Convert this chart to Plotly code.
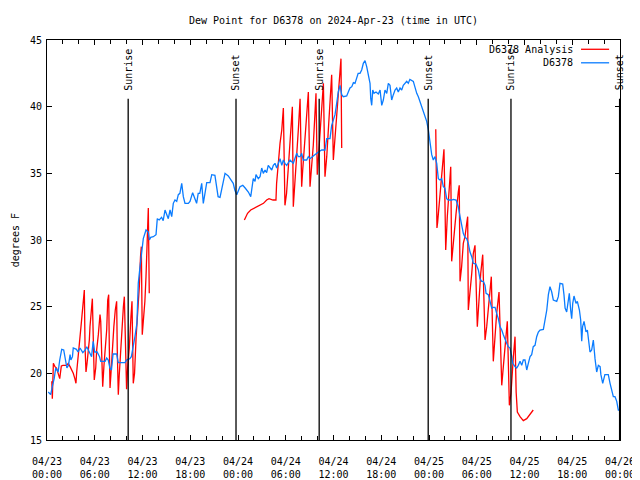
import pandas as pd
import plotly.graph_objects as go

START = pd.Timestamp("2024-04-23 00:00")

# ---- D6378 observed dew point (hours since 04/23 00:00 UTC, deg F)
blue_hours = [0.16,0.46,0.7,0.9,1.1,1.4,1.6,1.85,2.1,2.3,2.5,2.7,2.9,3.0,3.2,3.3,3.7,3.9,4.15,4.5,4.8,5.0,5.3,5.6,5.8,6.0,6.3,6.6,6.75,7.3,7.5,7.7,7.9,8.1,8.3,8.75,8.95,9.8,10.0,10.4,10.6,10.85,11.05,11.3,11.47,11.69,11.9,12.1,12.44,12.73,12.86,13.03,13.36,13.7,13.86,14.1,14.4,14.6,14.83,15.04,15.24,15.46,15.67,15.87,16.08,16.3,16.5,16.7,16.93,17.13,17.34,17.76,17.97,18.3,18.6,18.8,19.0,19.2,19.44,19.64,19.85,20.07,20.48,20.7,21.1,21.3,21.5,21.74,21.95,22.15,22.37,22.78,23.2,23.4,23.6,23.84,24.25,24.6,24.9,25.3,25.6,25.72,25.92,26.14,26.26,26.55,26.77,26.98,27.18,27.4,27.6,27.8,28.02,28.24,28.44,28.65,28.86,29.07,29.28,29.5,29.7,29.9,30.12,30.53,30.95,31.38,31.58,31.8,32.0,32.2,32.63,32.84,33.05,33.46,33.8,34.1,34.52,34.93,35.15,35.56,35.77,35.98,36.19,36.4,36.6,36.82,37.03,37.23,37.66,37.86,38.07,38.3,38.5,38.7,38.9,39.1,39.33,39.54,39.75,39.96,40.17,40.37,40.59,40.68,40.8,40.93,41.09,41.34,41.63,41.85,42.06,42.26,42.47,42.69,42.89,43.1,43.31,43.52,43.73,43.94,44.14,44.36,44.57,44.77,45.2,45.4,45.6,46.03,46.24,46.46,46.66,46.87,47.08,47.29,47.5,47.71,47.91,48.13,48.34,48.54,48.76,48.97,49.17,49.38,49.6,49.8,50.0,50.22,50.43,50.85,51.06,51.4,51.68,51.9,52.1,52.31,52.52,52.74,52.94,53.15,53.37,53.57,53.9,54.2,54.4,54.62,54.83,55.04,55.17,55.45,55.67,55.88,56.08,56.3,56.5,56.71,56.92,57.14,57.34,57.55,57.76,57.97,58.18,58.4,58.52,58.81,59.02,59.22,59.44,59.65,59.85,60.06,60.28,60.48,60.7,60.9,61.1,61.32,61.53,61.74,61.95,62.37,62.58,62.8,63.0,63.2,63.42,63.62,64.05,64.25,64.46,64.8,64.96,65.1,65.3,65.5,65.63,65.8,65.93,66.06,66.22,66.47,66.64,66.9,67.06,67.19,67.3,67.48,67.73,67.9,68.02,68.23,68.44,68.65,68.86,69.07,69.28,69.5,69.6,69.83,70.1,70.53,70.75,70.96,71.16,71.37,71.59,71.79,72.0]
blue_dewpt = [18.6,18.4,19.1,19.6,20.4,20.1,21.0,21.8,21.75,20.9,20.4,20.6,21.4,21.0,21.25,21.9,21.8,21.6,21.9,21.55,21.75,22.0,21.6,21.25,22.4,21.6,21.6,21.25,20.9,20.9,21.15,21.0,20.4,20.25,21.45,21.45,20.8,20.8,21.0,21.1,21.25,22.0,22.75,23.75,26.75,28.0,29.25,30.1,30.75,30.6,30.0,30.2,30.25,30.4,31.6,31.5,31.7,31.45,32.25,31.9,31.6,32.25,31.75,32.75,33.0,32.9,33.4,33.5,34.25,33.25,32.75,32.75,32.9,33.55,33.1,32.75,33.5,33.5,34.25,32.75,33.5,34.3,34.3,34.9,34.85,34.1,33.25,33.2,33.9,34.5,35.0,34.8,34.4,34.25,33.75,33.4,34.0,34.1,33.9,33.6,33.25,33.9,34.6,34.4,34.9,34.6,34.75,35.4,35.0,35.25,35.05,35.6,35.4,35.25,35.6,35.75,35.4,35.75,36.1,35.6,36.0,35.75,35.6,36.0,35.75,36.5,36.25,36.25,36.5,36.0,36.0,36.25,36.1,36.3,36.5,36.6,36.75,36.75,37.6,37.6,38.6,39.1,39.4,40.25,41.1,41.6,40.9,40.75,40.8,41.1,41.4,41.5,41.8,41.75,42.05,42.5,42.5,42.75,43.25,43.45,43.0,42.25,41.75,40.6,40.1,41.25,41.0,41.1,40.95,41.25,40.1,40.5,41.25,41.0,41.75,41.6,40.5,40.9,41.25,41.4,41.1,41.4,41.25,41.6,41.9,41.75,42.05,41.9,41.4,41.0,40.75,40.4,40.0,39.6,39.25,38.9,38.3,37.25,36.4,36.0,36.25,35.75,34.6,34.5,34.6,34.0,33.9,33.1,33.0,33.0,33.05,33.0,32.5,31.75,31.0,30.5,30.2,30.1,29.75,29.1,28.75,28.25,28.2,27.75,27.1,26.9,26.9,26.6,26.0,25.9,25.4,24.9,24.95,24.95,24.5,24.1,23.5,23.25,22.9,22.5,22.25,22.0,21.9,21.25,20.75,20.5,20.4,20.6,20.9,20.6,21.0,21.0,20.25,20.75,21.25,21.4,22.0,22.1,22.75,23.1,23.25,23.3,24.0,24.75,25.9,26.5,26.1,25.5,25.4,25.75,26.75,26.7,25.9,24.9,24.6,25.6,26.0,24.75,24.1,25.25,25.8,25.25,25.4,24.75,24.0,22.4,23.5,23.9,23.1,23.25,22.6,21.6,21.75,22.5,21.1,20.1,20.6,20.5,19.9,19.25,19.9,19.9,19.25,18.6,18.25,18.25,17.9,17.25,17.25]

# ---- D6378 Analysis (None = gap between analysis periods)
red_hours = [0.6,0.67,0.8,1.0,1.2,1.4,1.6,1.8,2.0,2.47,2.67,2.9,3.1,3.3,3.5,3.64,3.73,3.86,4.06,4.15,4.27,4.4,4.52,4.65,4.69,4.78,4.9,5.03,5.19,5.32,5.4,5.53,5.62,5.7,5.82,5.94,6.12,6.24,6.45,6.57,6.66,6.75,6.87,7.0,7.16,7.33,7.5,7.63,7.75,7.83,7.92,8.04,8.2,8.4,8.58,8.75,8.83,8.96,9.08,9.26,9.43,9.6,9.72,9.84,10.0,10.14,10.34,10.55,10.68,10.84,11.0,11.2,11.4,11.6,11.75,11.85,11.97,12.1,12.3,12.44,12.6,12.73,12.85,
             None,
             24.8,25.2,25.6,26.1,26.7,27.2,27.6,27.9,28.4,28.77,28.85,29.07,29.28,29.5,29.7,29.9,30.1,30.33,30.53,30.75,30.83,30.95,31.17,31.38,31.58,31.8,32.0,32.13,32.3,32.47,32.63,32.84,33.05,33.26,33.46,33.67,33.8,33.96,34.1,34.3,34.52,34.73,34.93,35.15,35.35,35.56,35.77,35.98,36.3,36.6,36.82,36.94,37.03,
             None,
             48.85,48.9,49.0,49.08,49.3,49.5,49.8,49.88,50.0,50.1,50.3,50.55,50.73,50.85,51.06,51.4,51.68,51.8,51.9,52.1,52.31,52.52,52.74,52.86,52.94,53.15,53.37,53.57,53.78,54.07,54.28,54.5,54.75,55.04,55.25,55.45,55.67,55.83,56.08,56.3,56.5,56.8,57.14,57.34,57.55,57.76,57.84,58.1,58.3,58.6,58.81,58.95,59.1,59.44,59.85,60.28,60.7,61.1]
red_dewpt = [19.4,18.1,20.75,20.5,20.4,20.0,19.6,20.55,20.6,20.6,20.75,20.5,20.25,20.0,19.6,19.25,20.1,21.1,22.0,22.75,23.5,24.25,25.1,25.9,26.25,22.0,20.1,20.75,21.6,22.5,23.5,24.4,25.25,25.6,22.5,19.5,20.4,21.75,22.9,23.75,24.4,23.9,21.1,19.0,20.6,21.9,23.25,25.5,25.9,22.0,18.9,20.0,21.75,23.5,24.75,25.4,21.75,18.4,19.9,22.0,24.0,25.0,25.75,21.5,18.8,20.5,21.9,24.25,25.4,19.25,20.0,22.75,24.5,26.5,28.75,29.5,22.9,23.75,25.4,27.25,29.5,32.4,26.0,
             None,
             31.5,32.0,32.25,32.4,32.6,32.75,33.0,33.1,33.0,33.0,34.25,35.9,37.25,38.25,39.9,32.6,33.5,35.5,37.25,39.4,40.0,32.5,34.25,36.25,38.25,40.6,34.0,35.25,36.75,38.5,39.5,41.1,34.0,35.5,37.1,39.5,41.0,34.9,36.25,38.25,40.25,41.75,34.75,36.25,38.25,40.5,42.4,36.0,38.75,41.25,42.75,43.6,36.9,
             None,
             38.3,34.5,30.9,31.3,33.0,34.25,36.4,36.8,33.0,29.25,31.75,33.75,35.5,28.4,30.0,32.0,33.6,34.1,26.9,28.0,29.75,30.25,31.25,31.75,24.75,25.9,27.5,29.0,29.6,23.5,25.5,27.5,28.9,22.5,23.5,25.0,26.5,27.25,20.9,23.0,24.5,26.1,19.1,20.5,22.0,23.5,23.9,17.6,18.5,21.25,22.75,18.6,17.1,16.75,16.45,16.6,16.9,17.25]

# ---- Sunrise / sunset markers
event_hours = [10.2, 23.75, 34.2, 47.9, 58.3, 71.95]
event_names = ["Sunrise", "Sunset", "Sunrise", "Sunset", "Sunrise", "Sunset"]

# ---- axis ticks
tick_hours = [0, 6, 12, 18, 24, 30, 36, 42, 48, 54, 60, 66, 72]
y_range = [15, 45]
TITLE = "Dew Point for D6378 on 2024-Apr-23 (time in UTC)"

def to_time(hours):
    return [None if h is None else START + pd.Timedelta(hours=h) for h in hours]

FONT = "DejaVu Sans Mono"
RED = "#ff0000"
BLUE = "#0a7cff"

# page body adds an 8px offset; figure sized so the plot box lands at x 47..620, y 40..440
W, H = 632, 472

fig = go.Figure()
fig.add_trace(go.Scatter(x=to_time(red_hours), y=red_dewpt, mode="lines",
                         line=dict(color=RED, width=1.3), connectgaps=False,
                         name="D6378 Analysis", showlegend=False))
fig.add_trace(go.Scatter(x=to_time(blue_hours), y=blue_dewpt, mode="lines",
                         line=dict(color=BLUE, width=1.3),
                         name="D6378", showlegend=False))

line_top = 40.6
for t, name in zip(to_time(event_hours), event_names):
    fig.add_shape(type="line", xref="x", yref="y", x0=t, x1=t, y0=y_range[0], y1=line_top,
                  line=dict(color="black", width=1.3))
    fig.add_annotation(x=t, y=line_top + 0.45, xref="x", yref="y", text=name, textangle=-90,
                       showarrow=False, xanchor="center", yanchor="bottom",
                       font=dict(family=FONT, size=10, color="black"))

tick_times = to_time(tick_hours)
tick_text = [t.strftime("%m/%d") + "<br>" + t.strftime("%H:%M") for t in tick_times]

# legend drawn gnuplot-style (text left, sample right)
legend_rows = [("D6378 Analysis", RED, 0.9768), ("D6378", BLUE, 0.943)]
for label, col, yp in legend_rows:
    fig.add_annotation(x=0.921, y=yp, xref="paper", yref="paper", text=label, showarrow=False,
                       xanchor="right", yanchor="middle", font=dict(family=FONT, size=10, color="black"))
    fig.add_shape(type="line", xref="paper", yref="paper", x0=0.932, x1=0.981, y0=yp, y1=yp,
                  line=dict(color=col, width=1.3))

fig.add_annotation(x=-0.0555, y=0.5, xref="paper", yref="paper", text="degrees F", textangle=-90,
                   showarrow=False, xanchor="center", yanchor="middle",
                   font=dict(family=FONT, size=10, color="black"))

fig.update_layout(
    width=W, height=H,
    margin=dict(l=39, r=20, t=32, b=40, autoexpand=False),
    paper_bgcolor="white", plot_bgcolor="white",
    showlegend=False,
    title=dict(text=TITLE, x=(333.5 - 8) / W, xanchor="center", y=1 - 12 / H, yanchor="middle",
               font=dict(family=FONT, size=10, color="black"), automargin=False),
    font=dict(family=FONT, size=10, color="black"),
)
fig.update_xaxes(type="date", range=[tick_times[0], tick_times[-1]], automargin=False,
                 tickmode="array", tickvals=tick_times, ticktext=tick_text,
                 ticks="inside", ticklen=5, tickcolor="black", ticklabelstandoff=12,
                 minor=dict(dtick=2 * 3600 * 1000, tick0=tick_times[0], ticks="inside", ticklen=4,
                            tickcolor="black", showgrid=False),
                 showline=True, linecolor="black", linewidth=1, mirror="allticks",
                 showgrid=False, zeroline=False, tickfont=dict(family=FONT, size=10))
fig.update_yaxes(range=y_range, dtick=5, tick0=15, ticks="inside", ticklen=5, tickcolor="black",
                 automargin=False, ticklabelstandoff=2,
                 showline=True, linecolor="black", linewidth=1, mirror="allticks",
                 showgrid=False, zeroline=False, tickfont=dict(family=FONT, size=10))

fig.write_html("out.html")
